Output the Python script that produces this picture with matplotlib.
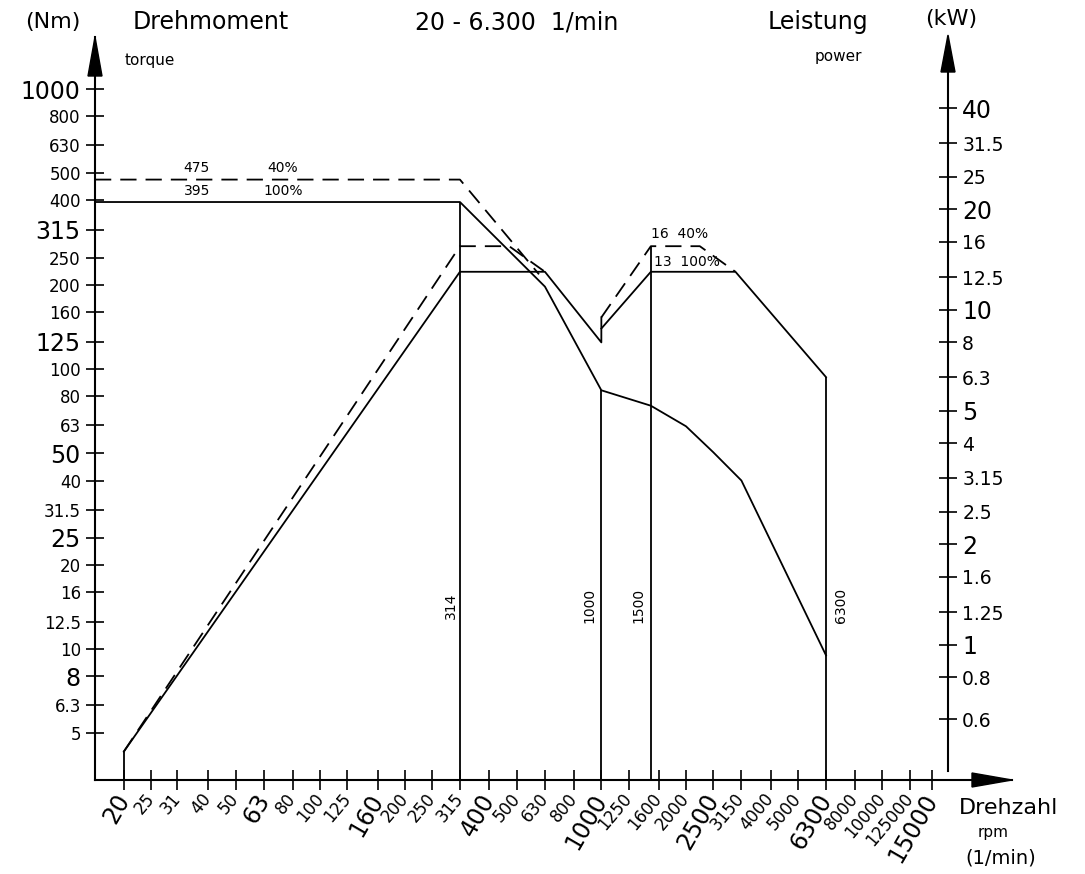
import numpy as np
import matplotlib
matplotlib.use("Agg")
import matplotlib.pyplot as plt
from matplotlib.patches import Polygon
from matplotlib.ticker import FixedLocator, FixedFormatter, NullLocator
import matplotlib.transforms as mtransforms

plt.rcParams['font.family'] = ['DejaVu Sans']

# ---------------- data ----------------
rpm_ticks = [20, 25, 31, 40, 50, 63, 80, 100, 125, 160, 200, 250, 315, 400, 500,
             630, 800, 1000, 1250, 1600, 2000, 2500, 3150, 4000, 5000, 6300,
             8000, 10000, 12500, 15000]
rpm_tick_labels = ['20', '25', '31', '40', '50', '63', '80', '100', '125', '160',
                   '200', '250', '315', '400', '500', '630', '800', '1000', '1250',
                   '1600', '2000', '2500', '3150', '4000', '5000', '6300', '8000',
                   '10000', '125000', '15000']
rpm_big = ['20', '63', '160', '400', '1000', '2500', '6300', '15000']

torque_ticks = [5, 6.3, 8, 10, 12.5, 16, 20, 25, 31.5, 40, 50, 63, 80, 100, 125,
                160, 200, 250, 315, 400, 500, 630, 800, 1000]
torque_tick_labels = ['5', '6.3', '8', '10', '12.5', '16', '20', '25', '31.5', '40',
                      '50', '63', '80', '100', '125', '160', '200', '250', '315',
                      '400', '500', '630', '800', '1000']
torque_big = ['1000', '315', '125', '50', '25', '8']

power_ticks = [0.6, 0.8, 1, 1.25, 1.6, 2, 2.5, 3.15, 4, 5, 6.3, 8, 10, 12.5, 16,
               20, 25, 31.5, 40]
power_tick_labels = ['0.6', '0.8', '1', '1.25', '1.6', '2', '2.5', '3.15', '4', '5',
                     '6.3', '8', '10', '12.5', '16', '20', '25', '31.5', '40']
power_big = ['40', '20', '10', '5', '2', '1']

# axis ranges (rpm, Nm, kW)
rpm_range = (15.8, 28900)
torque_range = (3.41, 1534)
power_range = (0.395, 65.3)
rpm_power_axis = 17100

# torque curves (Nm)
torque100_rpm = [15.8, 314, 630, 1000, 1500, 2000, 2500, 3150, 6300]
torque100_nm = [395, 395, 197, 84, 74, 62.5, 50.5, 40, 9.5]
torque40_rpm = [15.8, 314, 600]
torque40_nm = [475, 475, 218]

# power curves (kW)
power100_rpm_a = [20, 314, 630, 1000, 1000]
power100_kw_a = [0.48, 13, 13, 8, 9.5]
power100_rpm_b = [1000, 1500, 3000, 6300]
power100_kw_b = [8.8, 13, 13, 6.3]
power40_rpm_a = [20, 314, 470, 630]
power40_kw_a = [0.48, 15.5, 15.5, 13]
power40_rpm_b = [1000, 1500, 2240, 3000]
power40_kw_b = [9.5, 15.5, 15.5, 13]

# speed marks
mark_torque_rpm = [314, 1000]
mark_torque_top = [395, 84]
mark_power_rpm = [20, 1500, 6300]
mark_power_top = [0.48, 15.5, 6.3]
mark_labels = ['314', '1000', '1500', '6300']
mark_label_rpm = [314, 1000, 1500, 6300]

# ---------------- figure ----------------
W, H = 1085, 874
fig = plt.figure(figsize=(W / 100, H / 100), dpi=100)
fig.patch.set_facecolor('white')


def fx(x):
    return x / W


def fy(y):
    return 1 - y / H


ax = fig.add_axes([fx(95), fy(780), fx(1012) - fx(95), fy(37) - fy(780)])
ax.set_xscale('log')
ax.set_yscale('log')
ax.set_xlim(*rpm_range)
ax.set_ylim(*torque_range)
ax.patch.set_alpha(0)

ax2 = ax.twinx()
ax2.set_yscale('log')
ax2.set_ylim(*power_range)

LW = 1.3
DASH = (9, 5)
K = 'black'

# torque lines
ax.plot(torque100_rpm, torque100_nm, color=K, lw=LW)
ax.plot(torque40_rpm, torque40_nm, color=K, lw=LW, linestyle=(0, DASH))
ax.vlines(mark_torque_rpm, torque_range[0], mark_torque_top, color=K, lw=LW)

# power lines
ax2.plot(power100_rpm_a, power100_kw_a, color=K, lw=LW)
ax2.plot(power100_rpm_b, power100_kw_b, color=K, lw=LW)
ax2.plot(power40_rpm_a, power40_kw_a, color=K, lw=LW, linestyle=(0, DASH))
ax2.plot(power40_rpm_b, power40_kw_b, color=K, lw=LW, linestyle=(0, DASH))
ax2.vlines(mark_power_rpm, power_range[0], mark_power_top, color=K, lw=LW)

# spines
for s in ['top', 'right']:
    ax.spines[s].set_visible(False)
for s in ['top', 'left', 'bottom']:
    ax2.spines[s].set_visible(False)
ax.spines['left'].set_linewidth(1.5)
ax.spines['bottom'].set_linewidth(1.5)
ax2.spines['right'].set_position(('data', rpm_power_axis))
ax2.spines['right'].set_linewidth(1.5)
ax2.spines['right'].set_bounds(0.42, power_range[1])

# ticks
ax.xaxis.set_major_locator(FixedLocator(rpm_ticks))
ax.xaxis.set_major_formatter(FixedFormatter(rpm_tick_labels))
ax.xaxis.set_minor_locator(NullLocator())
ax.yaxis.set_major_locator(FixedLocator(torque_ticks))
ax.yaxis.set_major_formatter(FixedFormatter(torque_tick_labels))
ax.yaxis.set_minor_locator(NullLocator())
ax2.yaxis.set_major_locator(FixedLocator(power_ticks))
ax2.yaxis.set_major_formatter(FixedFormatter(power_tick_labels))
ax2.yaxis.set_minor_locator(NullLocator())

ax.tick_params(axis='x', direction='inout', length=14, width=1.2, pad=4)
ax.tick_params(axis='y', direction='inout', length=12.5, width=1.2, pad=4)
ax2.tick_params(axis='y', direction='inout', length=12.5, width=1.2, pad=4)

fig.canvas.draw()
for lbl in ax.get_xticklabels():
    big = lbl.get_text() in rpm_big
    lbl.set_fontsize(17 if big else 12)
    lbl.set_rotation(60 if big else 50)
    lbl.set_rotation_mode('anchor')
    lbl.set_ha('right')
    lbl.set_va('center')
for lbl in ax.get_yticklabels():
    big = lbl.get_text() in torque_big
    lbl.set_fontsize(17 if big else 12)
for lbl in ax2.get_yticklabels():
    big = lbl.get_text() in power_big
    lbl.set_fontsize(17 if big else 13.5)

# arrow heads
for pts in ([(95, 37), (88, 76), (102, 76)],
            [(948, 35), (941, 72), (955, 72)],
            [(1012, 780), (972, 773), (972, 787)]):
    fig.add_artist(Polygon([(fx(x), fy(y)) for x, y in pts], closed=True,
                           transform=fig.transFigure, facecolor=K, edgecolor=K))

# inline labels
FS_IN = 10
ax.annotate('475', (36.4, 475), xytext=(0, 3), textcoords='offset points',
            ha='center', va='bottom', fontsize=FS_IN)
ax.annotate('40%', (73.7, 475), xytext=(0, 3), textcoords='offset points',
            ha='center', va='bottom', fontsize=FS_IN)
ax.annotate('395', (36.4, 395), xytext=(0, 3), textcoords='offset points',
            ha='center', va='bottom', fontsize=FS_IN)
ax.annotate('100%', (73.7, 395), xytext=(0, 3), textcoords='offset points',
            ha='center', va='bottom', fontsize=FS_IN)
ax2.annotate('16  40%', (1500, 15.5), xytext=(0, 4), textcoords='offset points',
             ha='left', va='bottom', fontsize=FS_IN)
ax2.annotate('13  100%', (1500, 13), xytext=(2, 2), textcoords='offset points',
             ha='left', va='bottom', fontsize=FS_IN)

trans = mtransforms.blended_transform_factory(ax.transData, ax.transAxes)
offsets = [-9, -12, -12, 15]
for r, t, dx in zip(mark_label_rpm, mark_labels, offsets):
    ax.annotate(t, (r, 0.235), xycoords=trans, xytext=(dx * 0.72, 0),
                textcoords='offset points', rotation=90, ha='center', va='center',
                fontsize=FS_IN)

# titles
fig.text(fx(53), fy(22), '(Nm)', ha='center', va='center', fontsize=16)
fig.text(fx(211), fy(22), 'Drehmoment', ha='center', va='center', fontsize=17)
fig.text(fx(517), fy(22), '20 - 6.300  1/min', ha='center', va='center', fontsize=17)
fig.text(fx(818), fy(22), 'Leistung', ha='center', va='center', fontsize=17)
fig.text(fx(951), fy(19), '(kW)', ha='center', va='center', fontsize=16)
fig.text(fx(150), fy(60), 'torque', ha='center', va='center', fontsize=11)
fig.text(fx(838), fy(57), 'power', ha='center', va='center', fontsize=11)
fig.text(fx(1009), fy(808), 'Drehzahl', ha='center', va='center', fontsize=16)
fig.text(fx(993), fy(833), 'rpm', ha='center', va='center', fontsize=11)
fig.text(fx(1001), fy(858), '(1/min)', ha='center', va='center', fontsize=14)

fig.savefig('out.png', dpi=100, facecolor='white')
